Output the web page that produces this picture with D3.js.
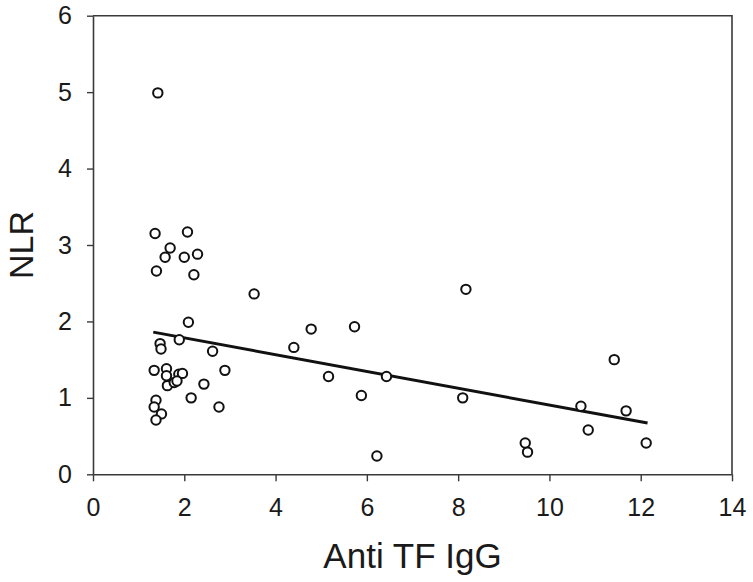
<!DOCTYPE html>
<html>
<head>
<meta charset="utf-8">
<script src="https://cdn.jsdelivr.net/npm/d3@7"></script>
<style>
  html, body { margin: 0; padding: 0; background: #fff; }
  svg { display: block; font-family: "Liberation Sans", Arial, sans-serif; }
</style>
</head>
<body>
<svg id="chart" width="753" height="582"></svg>
<script>
// Data
const xValues = [1.42, 1.36, 2.07, 1.69, 1.58, 2.00, 2.29, 1.39, 2.21, 3.53,
                 2.09, 1.47, 1.49, 1.89, 2.62, 1.34, 1.61, 1.61, 1.88, 1.96,
                 1.63, 1.78, 1.84, 2.43, 2.15, 2.76, 1.38, 1.34, 1.50, 1.38,
                 2.89, 8.17, 4.78, 5.73, 4.40, 5.16, 6.43, 5.88, 8.10, 6.22,
                 11.42, 10.69, 11.68, 10.85, 12.12, 9.47, 9.52];
const yValues = [4.99, 3.15, 3.17, 2.96, 2.84, 2.84, 2.88, 2.66, 2.61, 2.36,
                 1.99, 1.71, 1.64, 1.76, 1.61, 1.36, 1.38, 1.29, 1.31, 1.32,
                 1.16, 1.20, 1.22, 1.18, 1.00, 0.88, 0.97, 0.88, 0.79, 0.71,
                 1.36, 2.42, 1.90, 1.93, 1.66, 1.28, 1.28, 1.03, 1.00, 0.24,
                 1.50, 0.89, 0.83, 0.58, 0.41, 0.41, 0.29];
const fitX = [1.32, 12.15];
const fitY = [1.86, 0.67];
const xTicks = [0, 2, 4, 6, 8, 10, 12, 14];
const yTicks = [0, 1, 2, 3, 4, 5, 6];
const xTitle = "Anti TF IgG";
const yTitle = "NLR";

const margin = { left: 93, right: 21, top: 15.7, bottom: 107.7 };
const W = 753, H = 582;
const iw = W - margin.left - margin.right;
const ih = H - margin.top - margin.bottom;

const svg = d3.select("#chart");
const g = svg.append("g").attr("transform", `translate(${margin.left},${margin.top})`);

const x = d3.scaleLinear().domain([0, 14]).range([0, iw]);
const y = d3.scaleLinear().domain([0, 6]).range([ih, 0]);

const axisColor = "#3a3a3a";

// frame (top and right)
g.append("path")
  .attr("d", `M0,0H${iw}V${ih}`)
  .attr("fill", "none")
  .attr("stroke", axisColor)
  .attr("stroke-width", 1.6);

// x axis
const xa = g.append("g").attr("transform", `translate(0,${ih})`)
  .call(d3.axisBottom(x).tickValues(xTicks).tickFormat(d3.format("d"))
    .tickSize(7).tickPadding(17).tickSizeOuter(0));
// y axis
const ya = g.append("g")
  .call(d3.axisLeft(y).tickValues(yTicks).tickFormat(d3.format("d"))
    .tickSize(6).tickPadding(15).tickSizeOuter(0));

[xa, ya].forEach(a => {
  a.select(".domain").attr("stroke", axisColor).attr("stroke-width", 1.6);
  a.selectAll(".tick line").attr("stroke", axisColor).attr("stroke-width", 1.4);
  a.selectAll(".tick text")
    .attr("fill", "#1a1a1a")
    .style("font-size", "25px")
    .style("font-family", "'Liberation Sans', Arial, sans-serif");
});

// regression line
g.append("line")
  .attr("x1", x(fitX[0])).attr("y1", y(fitY[0]))
  .attr("x2", x(fitX[1])).attr("y2", y(fitY[1]))
  .attr("stroke", "#111")
  .attr("stroke-width", 3);

// points
const pts = xValues.map((v, i) => ({ x: v, y: yValues[i] }));
g.selectAll("circle.pt").data(pts).enter().append("circle")
  .attr("class", "pt")
  .attr("cx", d => x(d.x))
  .attr("cy", d => y(d.y))
  .attr("r", 4.7)
  .attr("fill", "#fff")
  .attr("stroke", "#111")
  .attr("stroke-width", 2);

// axis titles
svg.append("text")
  .attr("x", margin.left + iw / 2)
  .attr("y", 568)
  .attr("text-anchor", "middle")
  .attr("fill", "#1a1a1a")
  .style("font-size", "35px")
  .text(xTitle);

svg.append("text")
  .attr("transform", `translate(33,${margin.top + ih / 2}) rotate(-90)`)
  .attr("text-anchor", "middle")
  .attr("fill", "#1a1a1a")
  .style("font-size", "34px")
  .text(yTitle);
</script>
</body>
</html>
